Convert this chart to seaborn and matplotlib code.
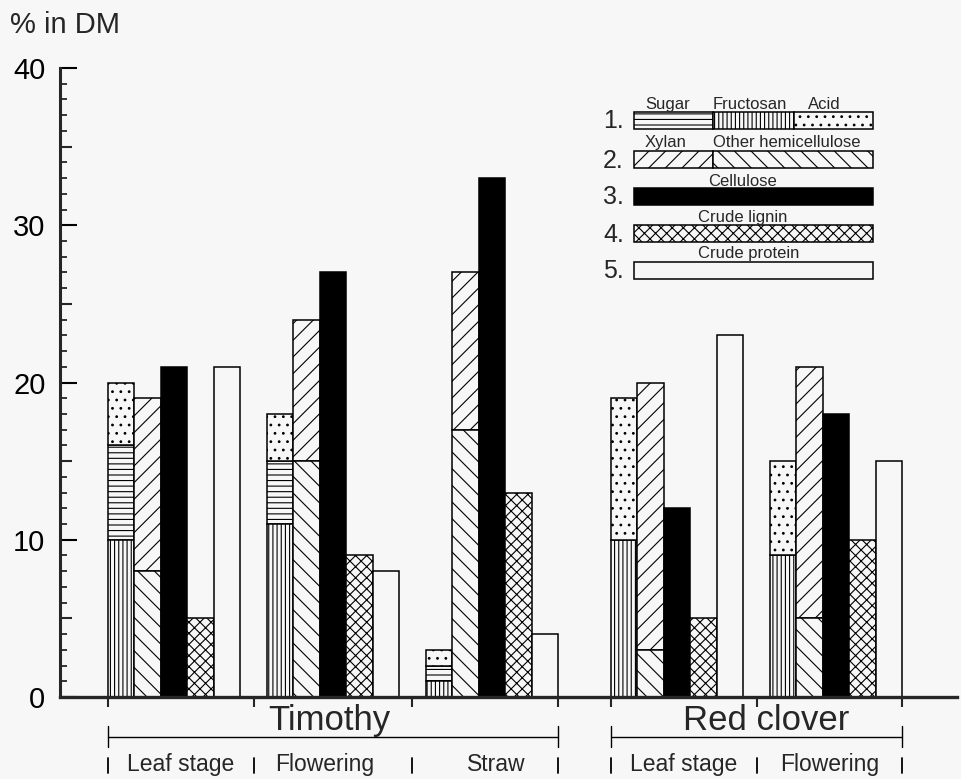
import numpy as np
import pandas as pd
import matplotlib
matplotlib.use("Agg")
import matplotlib.pyplot as plt
from matplotlib.patches import Rectangle
from matplotlib.ticker import MultipleLocator
import seaborn as sns

# ---------------- data ----------------
crops = ["Timothy", "Timothy", "Timothy", "Red clover", "Red clover"]
stages = ["Leaf stage", "Flowering", "Straw", "Leaf stage", "Flowering"]
fructosan = [10, 11, 1, 10, 9]
sugar = [6, 4, 1, 0, 0]
acid = [4, 3, 1, 9, 6]
other_hemi = [8, 15, 17, 3, 5]
xylan = [11, 9, 10, 17, 16]
cellulose = [21, 27, 33, 12, 18]
lignin = [5, 9, 13, 5, 10]
protein = [21, 8, 4, 23, 15]
y_ticks = [0, 10, 20, 30, 40]

# ---------------- layout ----------------
BG = "#f7f7f7"
group_start = [0, 6, 12, 19, 25]   # slot of first bar of each group
n_slots = 30
slots = list(range(n_slots))

sns.set_style("ticks")
plt.rcParams["font.family"] = ["Liberation Sans", "DejaVu Sans"]
plt.rcParams["hatch.linewidth"] = 0.8

# build tidy table of bar segments
rows = []
stack1 = [("Fructosan", fructosan), ("Sugar", sugar), ("Acid", acid)]
stack2 = [("Other hemicellulose", other_hemi), ("Xylan", xylan)]
singles = [("Cellulose", cellulose, 2), ("Crude lignin", lignin, 3), ("Crude protein", protein, 4)]
for g in range(5):
    b = 0
    for name, vals in stack1:
        rows.append(dict(slot=group_start[g], comp=name, value=vals[g], bottom=b))
        b += vals[g]
    b = 0
    for name, vals in stack2:
        rows.append(dict(slot=group_start[g] + 1, comp=name, value=vals[g], bottom=b))
        b += vals[g]
    for name, vals, off in singles:
        rows.append(dict(slot=group_start[g] + off, comp=name, value=vals[g], bottom=0))
df = pd.DataFrame(rows)
df = df[df["value"] > 0]

styles = {
    "Sugar": dict(color=BG, hatch="---"),
    "Fructosan": dict(color=BG, hatch="||||"),
    "Acid": dict(color=BG, hatch=".."),
    "Xylan": dict(color=BG, hatch="//"),
    "Other hemicellulose": dict(color=BG, hatch="\\\\"),
    "Cellulose": dict(color="black", hatch=None),
    "Crude lignin": dict(color=BG, hatch="xxx"),
    "Crude protein": dict(color=BG, hatch=None),
}

W, H = 962, 779
fig = plt.figure(figsize=(W / 100, H / 100), dpi=100, facecolor=BG)
ax_l, ax_r, ax_b, ax_t = 60, 957, 697, 68
ax = fig.add_axes([ax_l / W, 1 - ax_b / H, (ax_r - ax_l) / W, (ax_b - ax_t) / H])
ax.set_facecolor(BG)

for comp, st in styles.items():
    sub = df[df["comp"] == comp].sort_values("slot")
    if sub.empty:
        continue
    kw = dict(edgecolor="black", linewidth=1.1, bottom=sub["bottom"].to_numpy())
    if st["hatch"]:
        kw["hatch"] = st["hatch"]
    sns.barplot(data=sub, x="slot", y="value", order=slots, width=1.0,
                errorbar=None, color=st["color"], saturation=1, ax=ax, **kw)

# axes styling
ax.set_xlim(-2.31, 31.57)
ax.set_ylim(0, 40)
ax.set_xlabel("")
ax.set_ylabel("")
for s in ["top", "right"]:
    ax.spines[s].set_visible(False)
ax.spines["left"].set_linewidth(2.2)
ax.spines["bottom"].set_linewidth(2.4)

ax.set_yticks(y_ticks)
ax.set_yticklabels([str(v) for v in y_ticks], fontsize=21)
ax.yaxis.set_minor_locator(MultipleLocator(1))
ax.tick_params(axis="y", which="major", direction="in", length=12, width=1.5, pad=10.5,
               colors="black")
ax.tick_params(axis="y", which="minor", direction="in", length=5, width=1.3)

sec = ax.secondary_yaxis("left")
sec.set_yticks([5, 15, 25, 35])
sec.tick_params(direction="in", length=8.6, width=1.5, labelleft=False)
sec.spines["left"].set_visible(False)

bounds_t = [-0.5, 5, 11, 16.5]
bounds_r = [18.5, 24, 29.5]
ax.set_xticks(bounds_t + bounds_r)
ax.set_xticklabels([])
ax.tick_params(axis="x", which="major", direction="out", length=7, width=1.5)
ax.tick_params(axis="x", which="minor", bottom=False)

# group brackets below axis
tr = ax.get_xaxis_transform()
def fy_ax(py):
    return (ax_b - py) / (ax_b - ax_t)

for lo, hi, name, xc, bnds in [(-0.5, 16.5, "Timothy", 7.85, bounds_t),
                                (18.5, 29.5, "Red clover", 24.35, bounds_r)]:
    yb = fy_ax(737)
    ax.plot([lo, hi], [yb, yb], color="black", lw=1.0, transform=tr, clip_on=False)
    for xe in (lo, hi):
        ax.plot([xe, xe], [fy_ax(726), fy_ax(747)], color="black", lw=1.0,
                transform=tr, clip_on=False)
    for xe in bnds:
        ax.plot([xe, xe], [fy_ax(758), fy_ax(773)], color="black", lw=1.3,
                transform=tr, clip_on=False)
    ax.text(xc, fy_ax(730), name, transform=tr, ha="center", va="baseline",
            fontsize=25)

sub_x = [2.25, 7.7, 14.15, 21.25, 26.75]
for xc, lab in zip(sub_x, stages):
    ax.text(xc, fy_ax(771), lab, transform=tr, ha="center", va="baseline",
            fontsize=16.5)

# title
fig.text(10 / W, 1 - 33 / H, "% in DM", fontsize=21, ha="left", va="baseline")

# legend key (drawn in figure pixel coordinates)
def fx(px):
    return px / W
def fyf(py):
    return 1 - py / H

def key_rect(x0, x1, y0, y1, comp):
    st = styles[comp]
    r = Rectangle((fx(x0), fyf(y1)), fx(x1) - fx(x0), fyf(y0) - fyf(y1),
                  transform=fig.transFigure, facecolor=st["color"], edgecolor="black",
                  linewidth=1.1, hatch=st["hatch"])
    fig.add_artist(r)

rows_y = [(112, 129), (151, 168), (188, 205), (225, 242), (262, 279)]
key_rect(634, 713, *rows_y[0], "Sugar")
key_rect(713, 794, *rows_y[0], "Fructosan")
key_rect(794, 873, *rows_y[0], "Acid")
key_rect(634, 713, *rows_y[1], "Xylan")
key_rect(713, 873, *rows_y[1], "Other hemicellulose")
key_rect(634, 873, *rows_y[2], "Cellulose")
key_rect(634, 873, *rows_y[3], "Crude lignin")
key_rect(634, 873, *rows_y[4], "Crude protein")

for i, (y0, y1) in enumerate(rows_y):
    fig.text(fx(603), fyf((y0 + y1) / 2 + 8), f"{i + 1}.", fontsize=18,
             ha="left", va="baseline")

lfs = 12
fig.text(fx(645), fyf(109), "Sugar", fontsize=lfs, ha="left", va="baseline")
fig.text(fx(713), fyf(109), "Fructosan", fontsize=lfs, ha="left", va="baseline")
fig.text(fx(808), fyf(109), "Acid", fontsize=lfs, ha="left", va="baseline")
fig.text(fx(645), fyf(147), "Xylan", fontsize=lfs, ha="left", va="baseline")
fig.text(fx(713), fyf(147), "Other hemicellulose", fontsize=lfs, ha="left", va="baseline")
fig.text(fx(743), fyf(186), "Cellulose", fontsize=lfs, ha="center", va="baseline")
fig.text(fx(743), fyf(222), "Crude lignin", fontsize=lfs, ha="center", va="baseline")
fig.text(fx(749), fyf(258), "Crude protein", fontsize=lfs, ha="center", va="baseline")

fig.savefig("out.png", dpi=100, facecolor=BG)
